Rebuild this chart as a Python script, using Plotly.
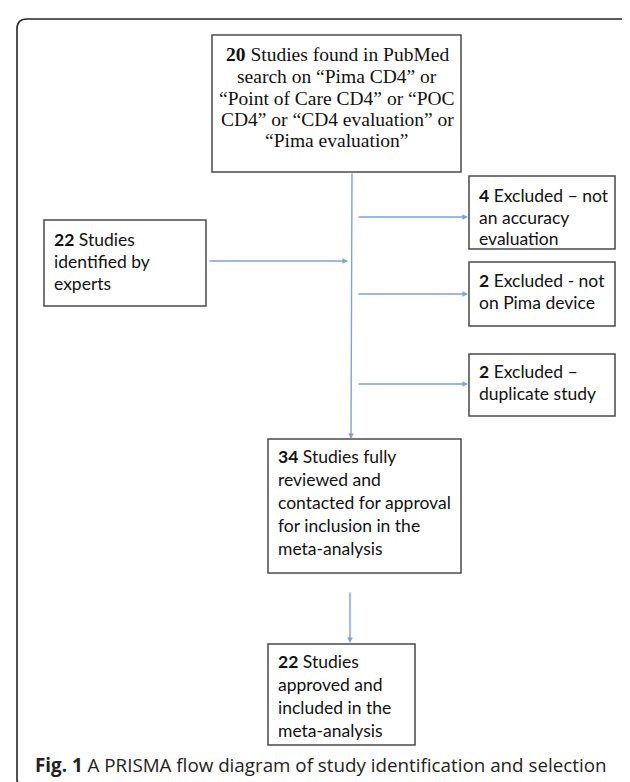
import plotly.graph_objects as go

# ---- text content (data) ----
top_lines = ["<b>20</b> Studies found in PubMed", "search on “Pima CD4” or",
             "“Point of Care CD4” or “POC", "CD4” or “CD4 evaluation” or",
             "“Pima evaluation”"]
experts_lines = ["<b>22</b> Studies", "identified by", "experts"]
excl1_lines = ["<b>4</b> Excluded – not", "an accuracy", "evaluation"]
excl2_lines = ["<b>2</b> Excluded - not", "on Pima device"]
excl3_lines = ["<b>2</b> Excluded –", "duplicate study"]
review_lines = ["<b>34</b> Studies fully", "reviewed and", "contacted for approval",
                "for inclusion in the", "meta-analysis"]
final_lines = ["<b>22</b> Studies", "approved and", "included in the", "meta-analysis"]
caption = "<b>Fig. 1</b> A PRISMA flow diagram of study identification and selection"

# ---- layout geometry ----
W, H = 630, 782
BOX_COLOR = "#4a4a4a"
ARROW_COLOR = "#7ea3d6"
SERIF = "Liberation Serif"
SANS = "Lato"
SANS_SIZE = 17.5

boxes = [  # (x0, y0, x1, y1)
    (204, 27, 453, 164),
    (36, 212, 198, 298),
    (461, 168, 607, 241),
    (461, 254, 607, 318),
    (461, 346, 607, 408),
    (260, 431, 453, 565),
    (260, 636, 407, 737),
]

fig = go.Figure()
fig.add_trace(go.Scatter(x=[0, W], y=[0, H], mode="markers",
                         marker=dict(opacity=0), hoverinfo="skip", showlegend=False))

shapes = []
# outer rounded frame
r = 10
x0f, y0f, x1f, y1f = 9, 11, 626, 781
frame_path = (f"M {x0f},{y0f+r} Q {x0f},{y0f} {x0f+r},{y0f} L {x1f-r},{y0f} "
              f"Q {x1f},{y0f} {x1f},{y0f+r} L {x1f},{y1f-r} Q {x1f},{y1f} {x1f-r},{y1f} "
              f"L {x0f+r},{y1f} Q {x0f},{y1f} {x0f},{y1f-r} Z")
shapes.append(dict(type="path", path=frame_path, xref="x", yref="y",
                   line=dict(color="#262626", width=1.6)))
for (a, b, c, d) in boxes:
    shapes.append(dict(type="rect", x0=a, y0=b, x1=c, y1=d, xref="x", yref="y",
                       line=dict(color=BOX_COLOR, width=1.5), fillcolor="white"))

annotations = []

def add_lines(lines, x, ys, font, size, anchor="left"):
    for t, y in zip(lines, ys):
        annotations.append(dict(x=x, y=y, xref="x", yref="y", text=t, showarrow=False,
                                xanchor=anchor, yanchor="middle",
                                font=dict(family=font, size=size, color="#111")))

add_lines(top_lines, 329, [46, 68, 90, 111, 132], SERIF, 19.5, "center")
add_lines(experts_lines, 44, [231, 253, 275], SANS, SANS_SIZE)
add_lines(excl1_lines, 469, [187, 209, 230], SANS, SANS_SIZE)
add_lines(excl2_lines, 469, [272, 294], SANS, SANS_SIZE)
add_lines(excl3_lines, 469, [363, 385], SANS, SANS_SIZE)
add_lines(review_lines, 268, [448, 471, 494, 517, 540], SANS, SANS_SIZE)
add_lines(final_lines, 268, [653, 676, 699, 722], SANS, SANS_SIZE)
annotations.append(dict(x=25, y=757, xref="x", yref="y", text=caption, showarrow=False,
                        xanchor="left", yanchor="middle",
                        font=dict(family="Open Sans", size=18.8, color="#222")))

# arrows: (tail_x, tail_y, head_x, head_y)
arrows = [
    (344, 164, 343, 431),
    (200, 253, 340, 253),
    (349, 209, 460, 209),
    (349, 286, 460, 286),
    (349, 376, 460, 376),
    (342, 583, 342, 635),
]
for (tx, ty, hx, hy) in arrows:
    annotations.append(dict(x=hx, y=hy, ax=tx, ay=ty, xref="x", yref="y",
                            axref="x", ayref="y", text="", showarrow=True,
                            arrowhead=2, arrowsize=0.8, arrowwidth=1.4,
                            arrowcolor=ARROW_COLOR, standoff=0, startstandoff=0))

fig.update_layout(
    width=W, height=H, margin=dict(l=0, r=0, t=0, b=0),
    paper_bgcolor="white", plot_bgcolor="white",
    xaxis=dict(range=[0, W], visible=False, fixedrange=True),
    yaxis=dict(range=[H, 0], visible=False, fixedrange=True),
    shapes=shapes, annotations=annotations, showlegend=False,
)
fig.write_html("out.html")
